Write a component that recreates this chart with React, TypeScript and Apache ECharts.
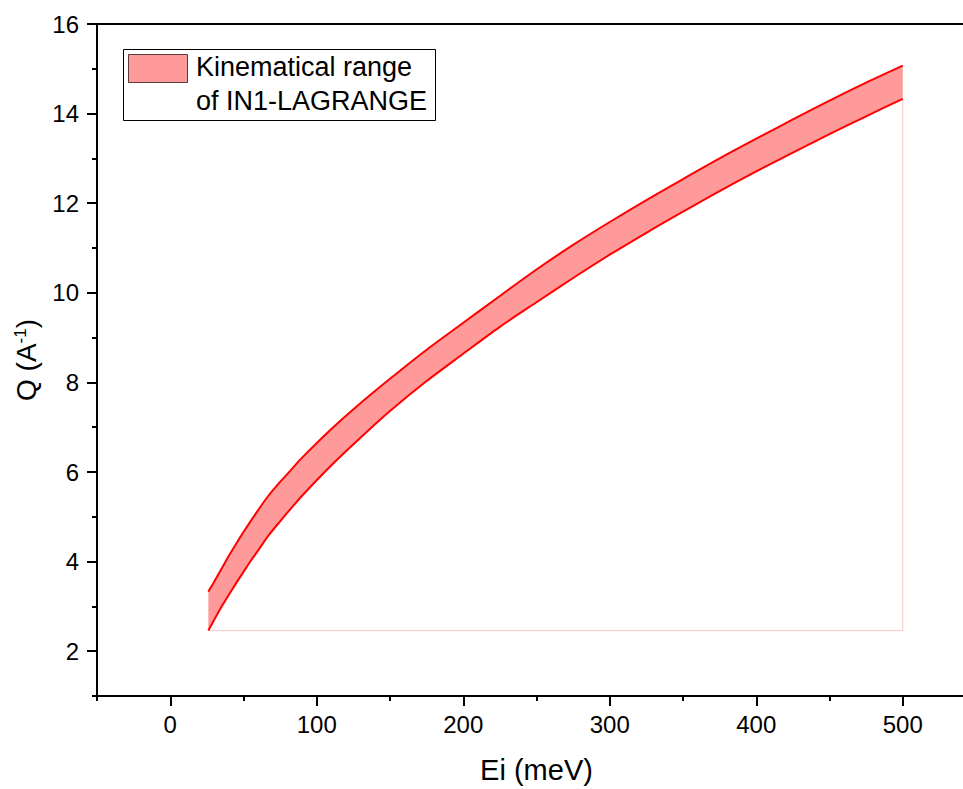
import React, { useEffect, useRef } from "react";
import * as echarts from "echarts";

// Incident energy (meV) sampled along the curves
const energies = [26, 30, 35, 40, 45, 50, 55, 60, 67, 75, 82, 90, 110, 130, 150, 175, 200, 225, 250, 275, 300, 325, 350, 375, 400, 425, 450, 475, 500];
// Upper Q boundary (Å^-1)
const qUpper = [3.33, 3.55, 3.84, 4.13, 4.4, 4.66, 4.91, 5.15, 5.47, 5.78, 6.03, 6.32, 6.96, 7.54, 8.08, 8.73, 9.33, 9.93, 10.52, 11.07, 11.58, 12.07, 12.54, 13.0, 13.44, 13.87, 14.29, 14.69, 15.07];
// Lower Q boundary (Å^-1)
const qLower = [2.46, 2.7, 2.99, 3.26, 3.52, 3.77, 4.02, 4.25, 4.58, 4.9, 5.17, 5.47, 6.15, 6.77, 7.36, 8.03, 8.64, 9.24, 9.79, 10.33, 10.85, 11.34, 11.81, 12.27, 12.71, 13.13, 13.54, 13.94, 14.33];

const xMajorTicks = [0, 100, 200, 300, 400, 500];
const xMinorTicks = [-50, 50, 150, 250, 350, 450, 550];
const yMajorTicks = [2, 4, 6, 8, 10, 12, 14, 16];
const yMinorTicks = [1, 3, 5, 7, 9, 11, 13, 15];

const legendLines = ["Kinematical range", "of IN1-LAGRANGE"];

const FONT = "'Liberation Sans', Arial, sans-serif";

export default function App() {
  const ref = useRef<HTMLDivElement>(null);

  useEffect(() => {
    if (!ref.current) return;
    const chart = echarts.init(ref.current, undefined, { renderer: "svg" });

    const upperData = energies.map((e, i) => [e, qUpper[i]]);
    const lowerData = energies.map((e, i) => [e, qLower[i]]);
    const n = energies.length;
    const boundaryData = [
      [energies[0], qLower[0]],
      [energies[n - 1], qLower[0]],
      [energies[n - 1], qLower[n - 1]],
    ];

    const option: any = {
      animation: false,
      backgroundColor: "#ffffff",
      grid: { left: 97, top: 24, right: 14, height: 675, containLabel: false },
      xAxis: [
        {
          type: "value",
          position: "bottom",
          min: -50,
          max: 550,
          axisLine: { show: true, onZero: false, lineStyle: { color: "#000", width: 2 } },
          axisTick: { show: true, customValues: xMajorTicks, length: 10, lineStyle: { color: "#000", width: 2 } },
          axisLabel: { customValues: xMajorTicks, fontSize: 24, color: "#000", fontFamily: FONT, margin: 16 },
          splitLine: { show: false },
          name: "Ei (meV)",
          nameLocation: "middle",
          nameGap: 59,
          nameTextStyle: { fontSize: 29, color: "#000", fontFamily: FONT },
        },
        {
          type: "value",
          position: "bottom",
          min: -50,
          max: 550,
          axisLine: { show: false, onZero: false },
          axisTick: { show: true, customValues: xMinorTicks, length: 5, lineStyle: { color: "#000", width: 2 } },
          axisLabel: { show: false },
          splitLine: { show: false },
        },
        {
          type: "value",
          position: "top",
          min: -50,
          max: 550,
          axisLine: { show: true, onZero: false, lineStyle: { color: "#000", width: 2 } },
          axisTick: { show: false },
          axisLabel: { show: false },
          splitLine: { show: false },
        },
      ],
      yAxis: [
        {
          type: "value",
          position: "left",
          min: 1,
          max: 16,
          axisLine: { show: true, onZero: false, lineStyle: { color: "#000", width: 2 } },
          axisTick: { show: true, customValues: yMajorTicks, length: 10, lineStyle: { color: "#000", width: 2 } },
          axisLabel: { customValues: yMajorTicks, fontSize: 24, color: "#000", fontFamily: FONT, margin: 18 },
          splitLine: { show: false },
          name: "{a|Q (A}{s|-1}{a|)}",
          nameLocation: "middle",
          nameGap: 57,
          nameTextStyle: {
            fontSize: 28,
            color: "#000",
            fontFamily: FONT,
            rich: {
              a: { fontSize: 28, color: "#000", fontFamily: FONT },
              s: { fontSize: 17, color: "#000", fontFamily: FONT, verticalAlign: "top" },
            },
          },
        },
        {
          type: "value",
          position: "left",
          min: 1,
          max: 16,
          axisLine: { show: false, onZero: false },
          axisTick: { show: true, customValues: yMinorTicks, length: 5, lineStyle: { color: "#000", width: 2 } },
          axisLabel: { show: false },
          splitLine: { show: false },
        },
      ],
      series: [
        {
          type: "custom",
          xAxisIndex: 0,
          yAxisIndex: 0,
          data: [[energies[0], qLower[0]]],
          renderItem: (params: any, api: any) => {
            const pts: number[][] = [];
            for (let i = 0; i < n; i++) pts.push(api.coord([energies[i], qUpper[i]]));
            for (let i = n - 1; i >= 0; i--) pts.push(api.coord([energies[i], qLower[i]]));
            return {
              type: "polygon",
              shape: { points: pts },
              style: { fill: "#FF9A9A", stroke: "none" },
            };
          },
          z: 1,
        },
        {
          type: "line",
          xAxisIndex: 0,
          yAxisIndex: 0,
          data: boundaryData,
          symbol: "none",
          lineStyle: { color: "#FFC4C4", width: 1 },
          z: 2,
        },
        {
          type: "line",
          xAxisIndex: 0,
          yAxisIndex: 0,
          data: upperData,
          symbol: "none",
          smooth: 0.3,
          lineStyle: { color: "#FF0000", width: 2 },
          z: 3,
        },
        {
          type: "line",
          xAxisIndex: 0,
          yAxisIndex: 0,
          data: lowerData,
          symbol: "none",
          smooth: 0.3,
          lineStyle: { color: "#FF0000", width: 2 },
          z: 3,
        },
      ],
      graphic: [
        {
          type: "rect",
          left: 123,
          top: 49,
          shape: { width: 312, height: 71 },
          style: { fill: "#fff", stroke: "#000", lineWidth: 1 },
          z: 10,
        },
        {
          type: "rect",
          left: 128,
          top: 54,
          shape: { width: 59, height: 28 },
          style: { fill: "#FF9A9A", stroke: "#5a3a3a", lineWidth: 1 },
          z: 11,
        },
        {
          type: "text",
          left: 196,
          top: 53,
          style: { text: legendLines[0], fontSize: 27, fill: "#000", fontFamily: FONT },
          z: 11,
        },
        {
          type: "text",
          left: 196,
          top: 87,
          style: { text: legendLines[1], fontSize: 27, fill: "#000", fontFamily: FONT },
          z: 11,
        },
      ],
    };

    chart.setOption(option);
    return () => chart.dispose();
  }, []);

  return (
    <div
      ref={ref}
      style={{ position: "fixed", left: 0, top: 0, width: 990, height: 789, background: "#fff" }}
    />
  );
}
